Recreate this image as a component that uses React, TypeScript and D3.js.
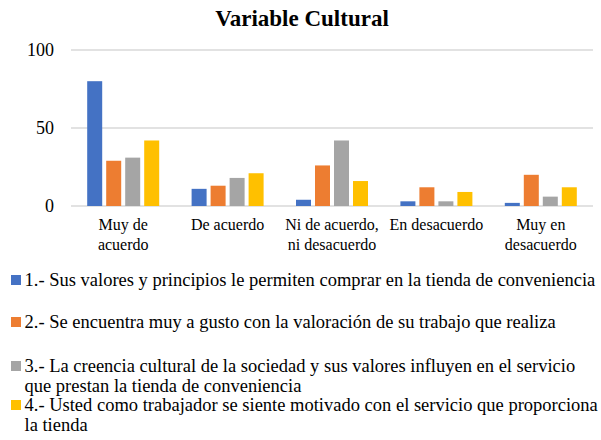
import React from "react";
import * as d3 from "d3";

const categories = [
  ["Muy de", "acuerdo"],
  ["De acuerdo"],
  ["Ni de acuerdo,", "ni desacuerdo"],
  ["En desacuerdo"],
  ["Muy en", "desacuerdo"],
];
const series1 = [80, 11, 4, 3, 2];
const series2 = [29, 13, 26, 12, 20];
const series3 = [31, 18, 42, 3, 6];
const series4 = [42, 21, 16, 9, 12];
const yTicks = [0, 50, 100];
const colors = ["#4472C4", "#ED7D31", "#A5A5A5", "#FFC000"];
const legendLines = [
  ["1.- Sus valores y principios le permiten comprar en la tienda de conveniencia"],
  ["2.- Se encuentra muy a gusto con la valoración de su trabajo que realiza"],
  ["3.- La creencia cultural de la sociedad y sus valores influyen en el servicio", "que prestan la tienda de conveniencia"],
  ["4.- Usted como trabajador se siente motivado con el servicio que proporciona", "la tienda"],
];

const W = 601;
const H = 440;
const font = "Liberation Serif";

export default function App() {
  const series = [series1, series2, series3, series4];
  const x = d3.scaleBand().domain(categories.map((_, i) => String(i))).range([71, 593]);
  const y = d3.scaleLinear().domain([0, 100]).range([206, 50]);
  const barW = 15;
  const step = 19;
  const legendBase = [286, 328, 372, 411];
  return (
    <svg width={W} height={H} style={{ position: "absolute", left: 0, top: 0, background: "#fff", fontFamily: font }}>
      <text x={302} y={26} textAnchor="middle" fontSize={23} fontWeight="bold" fill="#000" style={{ fontFamily: font }}>
        Variable Cultural
      </text>
      {yTicks.map((t) => (
        <g key={t}>
          <line x1={71} x2={593} y1={y(t)} y2={y(t)} stroke="#d9d9d9" strokeWidth={1.5} />
          <text x={54} y={y(t)} dy="0.35em" textAnchor="end" fontSize={18} fill="#000" style={{ fontFamily: font }}>
            {t}
          </text>
        </g>
      ))}
      {categories.map((c, i) => {
        const cx = (x(String(i)) as number) + x.bandwidth() / 2;
        return (
          <g key={i}>
            {series.map((s, j) => {
              const bx = cx - step * 1.5 + j * step - barW / 2;
              return (
                <rect key={j} x={bx} y={y(s[i])} width={barW} height={y(0) - y(s[i])} fill={colors[j]} />
              );
            })}
            {c.map((line, k) => (
              <text key={k} x={cx} y={230 + k * 20} textAnchor="middle" fontSize={16} fill="#000" style={{ fontFamily: font }}>
                {line}
              </text>
            ))}
          </g>
        );
      })}
      {legendLines.map((lines, j) => (
        <g key={j}>
          <rect x={11} y={legendBase[j] - 11} width={10} height={10} fill={colors[j]} />
          {lines.map((l, k) => (
            <text key={k} x={24.5} y={legendBase[j] + k * 20} fontSize={18.5} fill="#000" style={{ fontFamily: font }}>
              {l}
            </text>
          ))}
        </g>
      ))}
    </svg>
  );
}
